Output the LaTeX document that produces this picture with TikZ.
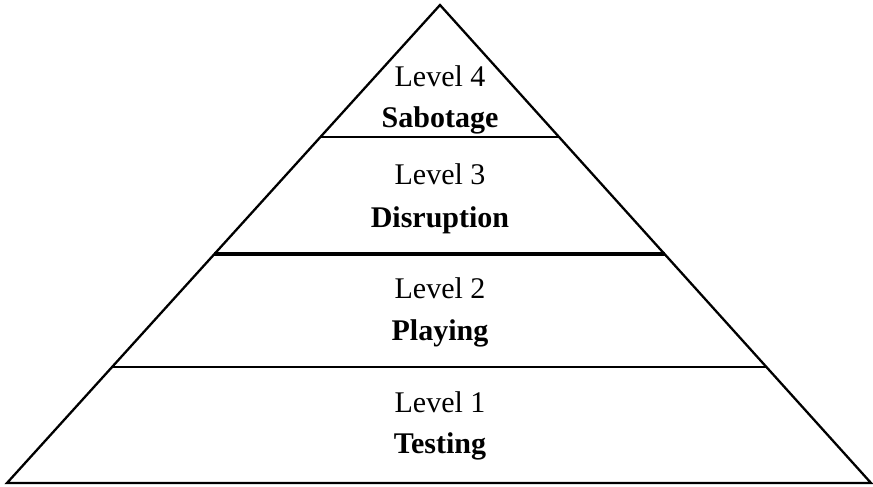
\documentclass[tikz,border=0pt]{standalone}
\usepackage{fontspec}
\setmainfont{Liberation Serif}
\usetikzlibrary{calc}

\begin{document}
\begin{tikzpicture}[x=1pt, y=-1pt, line join=miter,
    edge/.style={line width=2.3pt, black},
    lvl/.style={anchor=base, inner sep=0pt, font=\fontsize{30}{32}\selectfont},
    lvlname/.style={lvl, font=\fontsize{30}{32}\selectfont\bfseries}]
  \useasboundingbox (0,0) rectangle (873,487);
  % outer triangle
  \coordinate (apex) at (440,5);
  \coordinate (bl) at (7,483);
  \coordinate (br) at (871,483);
  \draw[edge] (apex) -- (br) -- (bl) -- cycle;
  % dividing lines (fraction of the way down from the apex)
  \coordinate (l34) at ($(apex)!0.276!(bl)$);
  \coordinate (r34) at ($(apex)!0.276!(br)$);
  \coordinate (l23) at ($(apex)!0.521!(bl)$);
  \coordinate (r23) at ($(apex)!0.521!(br)$);
  \coordinate (l12) at ($(apex)!0.757!(bl)$);
  \coordinate (r12) at ($(apex)!0.757!(br)$);
  \draw[edge] (l34) -- (r34);
  \draw[edge, line width=3.6pt] (l23) -- (r23);
  \draw[edge] (l12) -- (r12);
  % labels
  \foreach \n/\name/\ya/\yb in {4/Sabotage/86/127, 3/Disruption/184/227,
                                 2/Playing/298/340, 1/Testing/412/453}{
    \node[lvl] (level\n) at (440,\ya) {Level \n};
    \node[lvlname] (name\n) at (440,\yb) {\name};
  }
\end{tikzpicture}
\end{document}
